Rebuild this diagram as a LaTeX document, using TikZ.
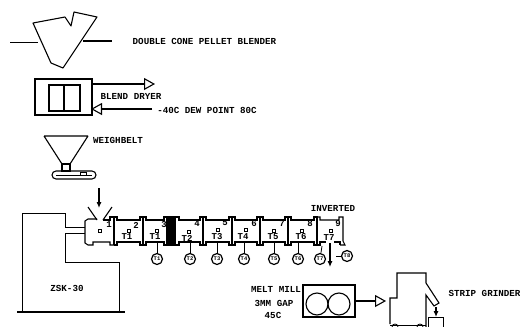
\documentclass[tikz,border=0pt]{standalone}
\usepackage{fontspec}
\setmainfont{Liberation Mono}
\usetikzlibrary{arrows.meta}
\tikzset{
  ln/.style={draw=black,line width=1.1pt},
  thn/.style={draw=black,line width=0.8pt},
  lab/.style={inner sep=0pt,font=\bfseries\fontsize{9.2}{10}\selectfont},
  zone/.style={inner sep=0pt,font=\bfseries\fontsize{9}{10}\selectfont},
  probe/.style={circle,draw=black,line width=1.2pt,fill=white,minimum size=11pt,inner sep=0pt,font=\bfseries\fontsize{5.5}{5.5}\selectfont},
  port/.style={rectangle,draw=black,line width=0.8pt,minimum size=2.5pt,inner sep=0pt},
  openarrow/.style={ln,-{Triangle[open,length=11pt,width=12pt,line width=1.1pt]}},
  solidarrow/.style={ln,-{Latex[length=6pt,width=5pt]}}
}
\begin{document}
\begin{tikzpicture}[x=1pt,y=-1pt]
\useasboundingbox (0,0) rectangle (520,327);
% blender
\draw[ln,line join=round] (33,23) -- (65,17) -- (71,26) -- (74,12) -- (97,17) -- (63,68) -- (51,63) -- cycle;
\coordinate (bl1) at (10,42); \coordinate (bl2) at (38,42);
\coordinate (bl3) at (83,41); \coordinate (bl4) at (112,41);
\draw[thn] (bl1) -- (bl2);
\draw[ln] (bl3) -- (bl4);
\node[lab] (blender) at (204.5,41) {DOUBLE CONE PELLET BLENDER};
% dryer
\draw[ln] (35,79) rectangle (92,115);
\draw[ln] (49,85) rectangle (80,111);
\draw[ln] (64,85) -- (64,111);
\coordinate (dry1) at (92,84); \coordinate (dry2) at (155,84);
\coordinate (dry3) at (152,109); \coordinate (dry4) at (91,109);
\draw[openarrow] (dry1) -- (dry2);
\draw[openarrow] (dry3) -- (dry4);
\node[lab] (dryer) at (131,96) {BLEND DRYER};
\node[lab] (dew) at (207,110) {-40C DEW POINT 80C};
% weighbelt
\draw[ln] (44,136) -- (88,136) (44,136) -- (62,164) (88,136) -- (70,164);
\draw[ln] (62,164) rectangle (70,171);
\draw[ln,rounded corners=4pt] (52,171) rectangle (96,179);
\draw[thn] (56,175) -- (92,175);
\draw[thn] (80,172) rectangle (86,175);
\node[lab] (weigh) at (118,140) {WEIGHBELT};
% feed
\coordinate (feed1) at (99,188); \coordinate (feed2) at (99,208);
\draw[solidarrow] (feed1) -- (feed2);
\draw[ln] (88,207) -- (97,220) (112,207) -- (103,220);
% ZSK-30 drive
\draw[thn] (22,312) -- (22,213) -- (65,213) -- (65,227) -- (85,227);
\draw[thn] (85,233) -- (65,233) -- (65,262) -- (119,262) -- (119,312);
\draw[ln] (17,312) -- (125,312);
\node[lab] (zsk) at (67,288) {ZSK-30};
% barrel
\draw[ln] (97,219) -- (88,219) -- (85,221) -- (85,243) -- (88,245) -- (93,245) -- (93,242) -- (110,242) -- (110,245) -- (114,245);
\draw[ln] (103,220) -- (110,220) -- (110,217) -- (114,217) -- (114,245);
\foreach \a/\b in {114/143,143/167,176/203,203/232,232/260,260/288,288/317}{
  \draw[ln] (\a,217) -- (\a+3,217) -- (\a+3,220) -- (\b-3,220) -- (\b-3,217) -- (\b,217) -- (\b,245);
  \draw[ln] (\a,245) -- (\a+3,245) -- (\a+3,242) -- (\b-3,242) -- (\b-3,245) -- (\b,245);
}
\fill[black] (167,216) rectangle (176,246);
\draw[ln] (317,217) -- (320,217) -- (320,220) -- (339,220) -- (339,217) -- (343,217) -- (343,241) -- (345,245) -- (340,245);
\draw[ln] (317,245) -- (320,245) -- (320,242) -- (326,242);
\draw[ln] (334,242) -- (340,242) -- (340,245);
% zone numbers
\foreach \n/\x/\y in {1/109/225,2/136/225,3/164/225,4/197/224,5/225/223,6/254/224,7/282/224,8/310/224,9/338/224}{
  \node[zone] (n\n) at (\x,\y) {\n};
}
% thermocouples
\node[port] (s0) at (100,231) {};
\foreach \i/\sx/\sy/\tx/\ty/\lbl in {1/129/231/127/237/T1,2/157/231/155/237/T1,3/189/232/187/238/T2,4/218/230/217/237/T3,5/246/230/243/237/T4,6/274/231/273/237/T5,7/302/231/301/237/T6,8/331/231/329/238/T7}{
  \node[port] (s\i) at (\sx,\sy) {};
  \node[zone] (z\i) at (\tx,\ty) {\lbl};
}
\foreach \i/\x/\y/\lbl in {1/157/259/T1,2/190/259/T2,3/217/259/T3,4/244/259/T4,5/274/259/T5,6/298/259/T6,7/320/259/T7,8/347/256/T8}{
  \node[probe] (p\i) at (\x,\y) {\lbl};
}
\coordinate (j1) at (157,241); \coordinate (j2) at (190,243); \coordinate (j3) at (217,243);
\coordinate (j4) at (244,243); \coordinate (j5) at (274,243); \coordinate (j6) at (298,243);
\coordinate (j7) at (322,246); \coordinate (j8) at (336,256);
\foreach \i in {1,...,8}{ \draw[thn] (j\i) -- (p\i); }
\coordinate (out1) at (330,243); \coordinate (out2) at (330,267);
\draw[solidarrow] (out1) -- (out2);
\node[lab] (inv) at (333,208) {INVERTED};
% melt mill
\node[lab] (mm1) at (276,289) {MELT MILL};
\node[lab] (mm2) at (274,303) {3MM GAP};
\node[lab] (mm3) at (273,315) {45C};
\draw[line width=1.5pt] (303,285) rectangle (355,317);
\node[circle,draw=black,line width=1.1pt,minimum size=22pt,inner sep=0pt] (r1) at (317,304) {};
\node[circle,draw=black,line width=1.1pt,minimum size=22pt,inner sep=0pt] (r2) at (339,304) {};
\coordinate (mo1) at (355,301); \coordinate (mo2) at (386,301);
\draw[openarrow] (mo1) -- (mo2);
% strip grinder
\draw[ln] (390,324) -- (390,298) -- (397,298) -- (397,273) -- (426,273) -- (426,283) -- (439,303) -- (434,306) -- (426,295) -- (426,327);
\draw[thn] (390,325) -- (426,325);
\draw[thn] (392,327) .. controls (392,323) and (398,323) .. (398,327);
\draw[thn] (417,327) .. controls (417,323) and (423,323) .. (423,327);
\coordinate (go1) at (436,307); \coordinate (go2) at (436,317);
\draw[solidarrow] (go1) -- (go2);
\draw[thn] (428,327) -- (428,317) -- (443,317) -- (443,327);
\node[lab] (strip) at (484.5,293) {STRIP GRINDER};
\end{tikzpicture}
\end{document}
